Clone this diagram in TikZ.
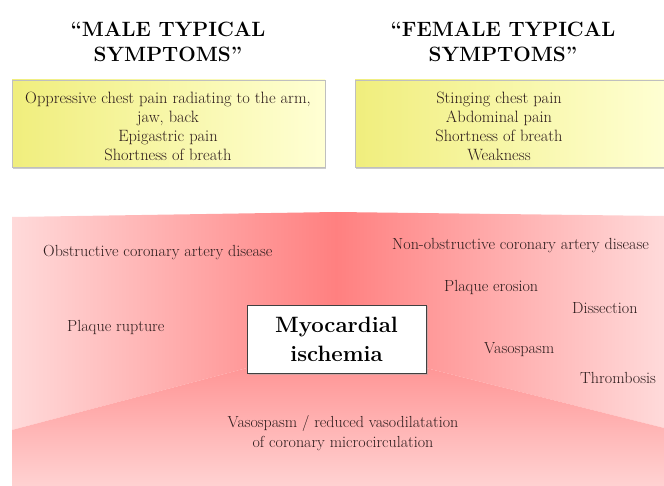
\RequirePackage{fix-cm}
\documentclass[tikz,border=0pt]{standalone}
\usetikzlibrary{shadows}
\definecolor{ischred}{RGB}{255,128,128}
\definecolor{ischpale}{RGB}{255,218,218}
\definecolor{ischmid}{RGB}{255,150,150}
\definecolor{ischlow}{RGB}{255,210,210}
\definecolor{symyellow}{RGB}{240,238,125}
\definecolor{sympale}{RGB}{255,255,212}
\definecolor{labelink}{RGB}{45,28,28}

\begin{document}
\begin{tikzpicture}[
    x=1pt, y=-1pt,
    title/.style={font=\bfseries\fontsize{20.7}{25}\selectfont, align=center},
    symbox/.style={draw=black!25, left color=symyellow, right color=sympale,
                   minimum height=87pt, inner sep=0pt,
                   drop shadow={shadow xshift=1pt, shadow yshift=-2pt, fill=black!40}},
    symtext/.style={font=\fontsize{16.4}{19}\selectfont, align=center, text=labelink},
    cause/.style={font=\fontsize{16.1}{19}\selectfont, text=labelink, inner sep=0pt},
    centrebox/.style={draw=black!75, line width=0.9pt, fill=white,
                      minimum width=179pt, minimum height=68pt, align=center,
                      font=\bfseries\fontsize{22.2}{29}\selectfont,
                      drop shadow={shadow xshift=1.5pt, shadow yshift=-1.5pt, fill=black!35}}
]
    \useasboundingbox (0,0) rectangle (664,486);

    % red background panels
    \shade[left color=ischpale, right color=ischred]
        (12,217) -- (336,212) -- (336,368) -- (247,368) -- (12,430) -- cycle;
    \shade[left color=ischred, right color=ischpale]
        (336,212) -- (664,216) -- (664,428) -- (426,368) -- (336,368) -- cycle;
    \shade[top color=ischmid, bottom color=ischlow]
        (12,430) -- (247,368) -- (426,368) -- (664,428) -- (664,486) -- (12,486) -- cycle;

    % symptoms
    \node[title] (maletitle) at (168,42) {``MALE TYPICAL\\SYMPTOMS''};
    \node[title] (femaletitle) at (503,42) {``FEMALE TYPICAL\\SYMPTOMS''};
    \node[symbox, minimum width=313pt] (malebox) at (168.5,123.5) {};
    \node[symbox, minimum width=315pt] (femalebox) at (512.5,123.5) {};
    \node[symtext] (maletext) at (168,126)
        {Oppressive chest pain radiating to the arm,\\jaw, back\\Epigastric pain\\Shortness of breath};
    \node[symtext] (femaletext) at (499,126)
        {Stinging chest pain\\Abdominal pain\\Shortness of breath\\Weakness};

    % mechanisms
    \node[centrebox] (ischemia) at (336.5,339) {Myocardial\\ischemia};
    \node[cause, anchor=west] (obstructive) at (43,253) {Obstructive coronary artery disease};
    \node[cause, anchor=west] (rupture) at (67,327) {Plaque rupture};
    \node[cause, anchor=west] (nonobstructive) at (392,246) {Non-obstructive coronary artery disease};
    \node[cause, anchor=west] (erosion) at (444,287) {Plaque erosion};
    \node[cause, anchor=west] (dissection) at (572,308) {Dissection};
    \node[cause, anchor=west] (vasospasm) at (484,350) {Vasospasm};
    \node[cause, anchor=west] (thrombosis) at (580,378) {Thrombosis};
    \node[cause, align=center, font=\fontsize{16}{20}\selectfont] (microcirc) at (343,433)
        {Vasospasm / reduced vasodilatation\\of coronary microcirculation};
\end{tikzpicture}
\end{document}
